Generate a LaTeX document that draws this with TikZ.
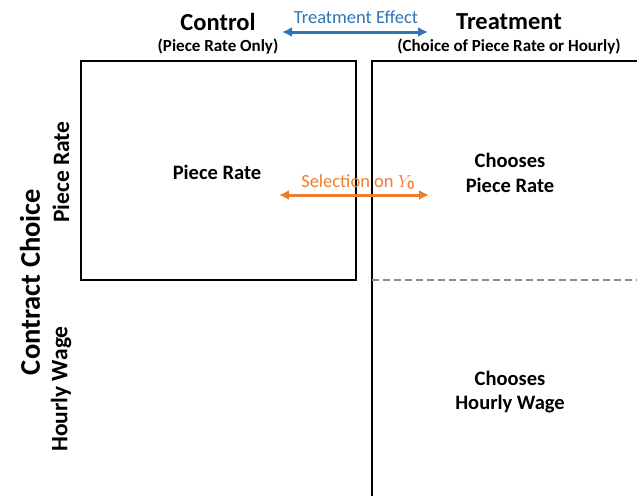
\documentclass[tikz,border=0pt]{standalone}
\usepackage{fontspec}
\setmainfont{Carlito}
\usetikzlibrary{positioning,arrows.meta}
\definecolor{effectblue}{RGB}{46,117,182}
\definecolor{selorange}{RGB}{237,125,49}
\definecolor{splitgray}{RGB}{140,140,140}

\begin{document}
\begin{tikzpicture}[x=1pt,y=-1pt,>={Latex[length=10pt,width=10pt]},thick,
    frame/.style={line width=2.7pt},
    head/.style={font=\bfseries\fontsize{24.5}{28}\selectfont},
    sub/.style={font=\bfseries\fontsize{17}{20}\selectfont},
    cell/.style={font=\bfseries\fontsize{20.5}{24.5}\selectfont, align=center},
    row/.style={font=\bfseries\fontsize{23.5}{28}\selectfont, rotate=90},
    note/.style={font=\fontsize{18.5}{22}\selectfont}]
    \useasboundingbox (0,0) rectangle (637,496);

    % column heads
    \node [head] (control) at (218,22) {Control};
    \node [sub] (controlsub) at (218,47) {(Piece Rate Only)};
    \node [head] (treat) at (509,22) {Treatment};
    \node [sub] (treatsub) at (509,47) {(Choice of Piece Rate or Hourly)};

    % frames
    \coordinate (c1) at (81,61);
    \coordinate (c2) at (356,280);
    \draw [frame] (c1) rectangle (c2);
    \coordinate (t1) at (372,496);
    \coordinate (t2) at (372,61);
    \coordinate (t3) at (638,61);
    \draw [frame] (t1) -- (t2) -- (t3);
    \coordinate (d1) at (372,280);
    \coordinate (d2) at (637,280);
    \draw [splitgray, line width=2.4pt, dash pattern=on 7pt off 4pt] (d1) -- (d2);

    % row labels
    \node [head, rotate=90, font=\bfseries\fontsize{28.5}{34}\selectfont] (choice) at (30,282) {Contract Choice};
    \node [row] (rowpr) at (61,172) {Piece Rate};
    \node [row] (rowhw) at (61,389) {Hourly Wage};

    % cells
    \node [cell] (cpr) at (217,172) {Piece Rate};
    \node [cell] (tpr) at (510,173) {Chooses\\Piece Rate};
    \node [cell] (thw) at (510,392) {Chooses\\Hourly Wage};

    % effects
    \node [note, text=effectblue] (effect) at (356,17) {Treatment Effect};
    \coordinate (e1) at (282,32);
    \coordinate (e2) at (428,32);
    \draw [<->, effectblue, line width=3pt] (e1) -- (e2);
    \node [note, text=selorange] (sel) at (358,182) {Selection on $Y_{\mathbf{0}}$};
    \coordinate (s1) at (279,195);
    \coordinate (s2) at (429,195);
    \draw [<->, selorange, line width=3pt] (s1) -- (s2);
\end{tikzpicture}
\end{document}
